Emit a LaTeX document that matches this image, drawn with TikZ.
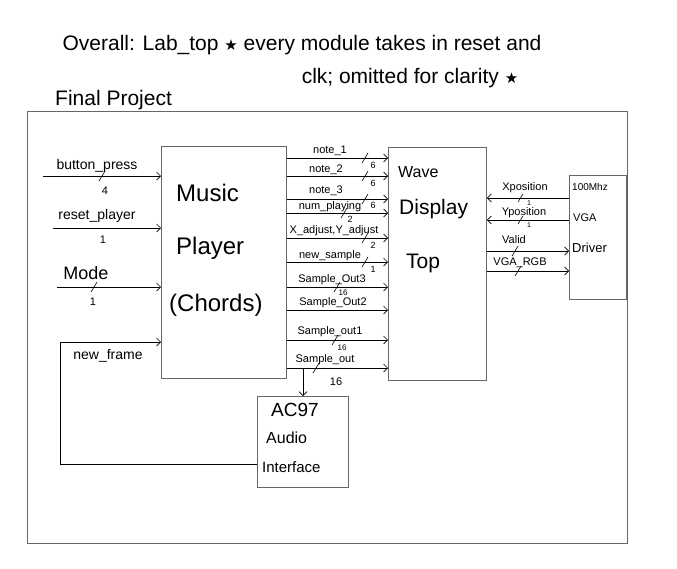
\documentclass[tikz,border=0pt]{standalone}
\usepackage{fontspec}
\setmainfont{Liberation Sans}
\newfontfamily\symf{DejaVu Sans}
\usetikzlibrary{arrows.meta}
\newcommand{\fs}[1]{\fontsize{#1}{#1}\selectfont}
\begin{document}
\begin{tikzpicture}[x=1pt,y=-1pt,
  box/.style={draw=black!60, line width=0.8pt, inner sep=0pt, anchor=north west},
  wire/.style={line width=0.7pt, -{Straight Barb[length=4pt,width=8pt]}},
  lbl/.style={inner sep=0pt, font=\fs{11}},
  num/.style={inner sep=0pt, font=\fs{9}},
  txt/.style={inner sep=0pt, anchor=west},
  tk/.style={line width=0.6pt}]
\useasboundingbox (0,0) rectangle (677,568);
\fill[white] (0,0) rectangle (677,568);

% title
\node[inner sep=0pt, font=\fs{21}] (title1) at (302,45) {Overall: Lab\_top {\symf\fs{15}★} every module takes in reset and};
\node[inner sep=0pt, font=\fs{21}] (title2) at (410,78) {clk; omitted for clarity {\symf\fs{15}★}};
\node[inner sep=0pt, font=\fs{21}, anchor=west] (fp) at (55,100) {Final Project};

% frame
\node[box, minimum width=600pt, minimum height=432pt] (frame) at (27,111) {};

% boxes
\node[box, minimum width=125pt, minimum height=232pt] (mp) at (161,146) {};
\node[box, minimum width=98pt, minimum height=233pt] (wd) at (388,147) {};
\node[box, minimum width=57pt, minimum height=124pt] (vga) at (569,175) {};
\node[box, minimum width=91pt, minimum height=91pt] (ac) at (257,396) {};

% box texts
\node[txt, font=\fs{24}] (mp1) at (176,193) {Music};
\node[txt, font=\fs{24}] (mp2) at (176,248) {Player};
\node[txt, font=\fs{24}] (mp3) at (169,305) {(Chords)};
\node[txt, font=\fs{16}] (wd1) at (398,172) {Wave};
\node[txt, font=\fs{21}] (wd2) at (399,209) {Display};
\node[txt, font=\fs{21}] (wd3) at (406,263) {Top};
\node[txt, font=\fs{10}] (vg1) at (572,187) {100Mhz};
\node[txt, font=\fs{11}] (vg2) at (573,218) {VGA};
\node[txt, font=\fs{13}] (vg3) at (572,248) {Driver};
\node[txt, font=\fs{19}] (ac1) at (271,410) {AC97};
\node[txt, font=\fs{16}] (ac2) at (266,438) {Audio};
\node[txt, font=\fs{15}] (ac3) at (262,467) {Interface};

% left inputs
\coordinate (bp) at (43,176);
\coordinate (rp) at (53,228);
\coordinate (md) at (57,287);
\draw[wire] (bp) -- (bp -| mp.west);
\draw[wire] (rp) -- (rp -| mp.west);
\draw[wire] (md) -- (md -| mp.west);
\node[lbl, font=\fs{14}] (bpl) at (97,166) {button\_press};
\node[lbl, font=\fs{14}] (rpl) at (97,216) {reset\_player};
\node[lbl, font=\fs{18}] (mdl) at (86,273) {Mode};
\draw[tk] (99,181) -- (105,171);
\node[num, font=\fs{11}] (bpn) at (105,191) {4};
\node[num, font=\fs{11}] (rpn) at (103,240) {1};
\draw[tk] (91,292) -- (97,282);
\node[num, font=\fs{11}] (mdn) at (93,302) {1};

% feedback new_frame
\draw[wire] (ac.west |- 0,464) -- (60,464) -- (60,342) -- (mp.west |- 0,342);
\node[lbl, font=\fs{14}] (nfl) at (108,356) {new\_frame};

% music player -> wave display
\foreach \y in {158,176,199,213,238,262,287,310,340,368}
  \draw[wire] (mp.east |- 0,\y) -- (wd.west |- 0,\y);
\node[lbl] (l1) at (330,151) {note\_1};
\node[lbl] (l2) at (326,170) {note\_2};
\node[lbl] (l3) at (326,191) {note\_3};
\node[lbl] (l4) at (330,207) {num\_playing};
\node[lbl] (l5) at (334,231) {X\_adjust,Y\_adjust};
\node[lbl] (l6) at (330,256) {new\_sample};
\node[lbl] (l7) at (332,280) {Sample\_Out3};
\node[lbl] (l8) at (333,303) {Sample\_Out2};
\node[lbl] (l9) at (330,332) {Sample\_out1};
\node[lbl] (l10) at (325,360) {Sample\_out};
\draw[tk] (362,163) -- (368,153);
\node[num] (n1) at (373,165) {6};
\draw[tk] (362,181) -- (368,171);
\node[num] (n2) at (373,183) {6};
\draw[tk] (362,204) -- (368,194);
\node[num] (n3) at (373,205) {6};
\draw[tk] (341,218) -- (347,208);
\node[num] (n4) at (350,219) {2};
\draw[tk] (362,243) -- (368,233);
\node[num] (n5) at (373,245) {2};
\draw[tk] (362,267) -- (368,257);
\node[num] (n6) at (373,269) {1};
\draw[tk] (334,292) -- (340,282);
\node[num, font=\fs{8}] (n7) at (343,293) {16};
\draw[tk] (332,345) -- (338,335);
\node[num, font=\fs{8}] (n9) at (342,348) {16};
\draw[tk] (313,373) -- (319,363);
\node[num, font=\fs{11}] (n10) at (336,382) {16};

% to AC97
\coordinate (tap) at (303,368);
\draw[wire] (tap) -- (tap |- ac.north);

% wave display <-> VGA
\draw[wire] (vga.west |- 0,198) -- (wd.east |- 0,198);
\draw[wire] (vga.west |- 0,220) -- (wd.east |- 0,220);
\draw[wire] (wd.east |- 0,251) -- (vga.west |- 0,251);
\draw[wire] (wd.east |- 0,271) -- (vga.west |- 0,271);
\node[lbl] (r1) at (525,188) {Xposition};
\node[lbl] (r2) at (524,213) {Yposition};
\node[lbl] (r3) at (514,240) {Valid};
\node[lbl] (r4) at (520,263) {VGA\_RGB};
\draw[tk] (518,202) -- (523,194);
\node[num, font=\fs{7}] (rn1) at (529,203) {1};
\draw[tk] (518,224) -- (523,216);
\node[num, font=\fs{7}] (rn2) at (529,225) {1};
\draw[tk] (512,256) -- (518,246);
\draw[tk] (515,276) -- (521,266);
\end{tikzpicture}
\end{document}
